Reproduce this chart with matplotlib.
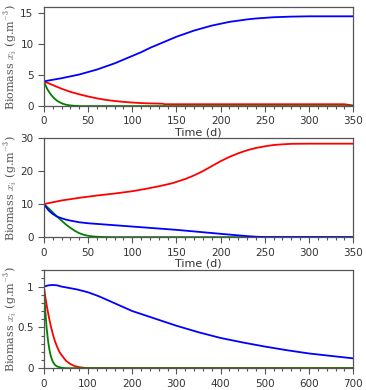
import numpy as np
import matplotlib
matplotlib.use("Agg")
import matplotlib.pyplot as plt
from matplotlib.ticker import MultipleLocator

plt.rcParams['mathtext.fontset'] = 'cm'

# panel 1
t1_blue = [0, 10, 20, 30, 40, 50, 60, 70, 80, 90, 100, 110, 120, 130, 140, 150, 160, 170, 180,
           190, 200, 210, 220, 230, 240, 250, 260, 270, 280, 300, 320, 350]
x1_blue = [4.0, 4.25, 4.5, 4.8, 5.1, 5.5, 5.9, 6.4, 6.9, 7.5, 8.1, 8.7, 9.4, 10.0, 10.6, 11.2,
           11.7, 12.2, 12.6, 13.0, 13.3, 13.6, 13.8, 14.0, 14.15, 14.25, 14.35, 14.4, 14.45, 14.5, 14.5, 14.5]
t1_red = [0, 10, 20, 30, 40, 50, 60, 70, 80, 90, 100, 115, 135, 136, 340, 350]
x1_red = [4.0, 3.4, 2.8, 2.3, 1.9, 1.55, 1.25, 1.0, 0.82, 0.68, 0.57, 0.45, 0.38, 0.3, 0.3, 0.1]
t1_green = [0, 2, 4, 6, 8, 10, 12, 15, 18, 21, 25, 30, 35, 40, 350]
x1_green = [4.0, 3.3, 2.7, 2.25, 1.85, 1.5, 1.2, 0.85, 0.6, 0.4, 0.22, 0.1, 0.04, 0.0, 0.0]

# panel 2
t2_red = [0, 20, 40, 60, 80, 100, 115, 130, 145, 160, 170, 180, 190, 200, 210, 220, 230,
          240, 250, 260, 270, 280, 300, 350]
x2_red = [10.0, 11.1, 11.9, 12.6, 13.2, 13.9, 14.6, 15.4, 16.3, 17.6, 18.7, 20.0, 21.5, 23.0,
          24.3, 25.4, 26.3, 27.0, 27.5, 27.9, 28.1, 28.25, 28.3, 28.3]
t2_blue = [0, 3, 6, 10, 15, 20, 25, 30, 40, 50, 75, 100, 125, 150, 175, 200, 215, 230, 240, 250, 350]
x2_blue = [10.0, 8.9, 7.9, 7.0, 6.2, 5.7, 5.3, 5.0, 4.5, 4.2, 3.7, 3.2, 2.7, 2.2, 1.6, 1.0,
           0.65, 0.3, 0.12, 0.03, 0.0]
t2_green = [0, 5, 10, 15, 20, 25, 30, 35, 40, 45, 50, 55, 60, 65, 75, 350]
x2_green = [10.0, 8.8, 7.5, 6.2, 5.0, 3.8, 2.8, 1.9, 1.2, 0.7, 0.4, 0.22, 0.12, 0.05, 0.0, 0.0]

# panel 3
t3_blue = [0, 10, 20, 30, 40, 50, 75, 100, 125, 150, 175, 200, 225, 250, 275, 300, 325, 350,
           375, 400, 450, 500, 550, 600, 650, 700]
x3_blue = [1.0, 1.015, 1.02, 1.015, 1.0, 0.99, 0.965, 0.93, 0.88, 0.82, 0.76, 0.70, 0.655,
           0.61, 0.565, 0.52, 0.48, 0.44, 0.405, 0.37, 0.315, 0.265, 0.22, 0.18, 0.15, 0.12]
t3_red = [0, 3, 6, 10, 15, 20, 25, 30, 35, 40, 50, 60, 70, 80, 90, 100, 125, 700]
x3_red = [1.0, 0.88, 0.78, 0.66, 0.53, 0.42, 0.33, 0.26, 0.2, 0.16, 0.09, 0.05, 0.025, 0.012,
          0.005, 0.0, 0.0, 0.0]
t3_green = [0, 2, 4, 6, 8, 10, 13, 16, 20, 25, 30, 40, 50, 700]
x3_green = [1.0, 0.8, 0.64, 0.5, 0.4, 0.31, 0.21, 0.14, 0.08, 0.04, 0.02, 0.005, 0.0, 0.0]

ylab = r'Biomass $x_i$ (g.m$^{-3}$)'
gray = '#555555'

fig = plt.figure(figsize=(3.66, 3.90), dpi=100)
ax1 = fig.add_axes([0.120, 0.728, 0.845, 0.254])
ax2 = fig.add_axes([0.120, 0.392, 0.845, 0.254])
ax3 = fig.add_axes([0.120, 0.056, 0.845, 0.251])

ax1.plot(t1_red, x1_red, color='red', lw=1.3)
ax1.plot(t1_green, x1_green, color='green', lw=1.3)
ax1.plot(t1_blue, x1_blue, color='blue', lw=1.3)
ax1.set_xlim(0, 350)
ax1.set_ylim(0, 16)
ax1.set_yticks([0, 5, 10, 15])
ax1.xaxis.set_major_locator(MultipleLocator(50))
ax1.xaxis.set_minor_locator(MultipleLocator(10))

ax2.plot(t2_green, x2_green, color='green', lw=1.3)
ax2.plot(t2_blue, x2_blue, color='blue', lw=1.3)
ax2.plot(t2_red, x2_red, color='red', lw=1.3)
ax2.set_xlim(0, 350)
ax2.set_ylim(0, 30)
ax2.set_yticks([0, 10, 20, 30])
ax2.xaxis.set_major_locator(MultipleLocator(50))
ax2.xaxis.set_minor_locator(MultipleLocator(10))

ax3.plot(t3_blue, x3_blue, color='blue', lw=1.3)
ax3.plot(t3_red, x3_red, color='red', lw=1.3)
ax3.plot(t3_green, x3_green, color='green', lw=1.3)
ax3.set_xlim(0, 700)
ax3.set_ylim(0, 1.2)
ax3.set_yticks([0, 0.5, 1])
ax3.set_yticklabels(['0', '0.5', '1'])
ax3.xaxis.set_major_locator(MultipleLocator(100))
ax3.xaxis.set_minor_locator(MultipleLocator(20))
ax3.yaxis.set_minor_locator(MultipleLocator(0.1))

for ax in (ax1, ax2, ax3):
    for s in ax.spines.values():
        s.set_color(gray)
        s.set_linewidth(0.9)
    ax.tick_params(which='both', direction='out', colors=gray, labelcolor='#333333',
                   labelsize=7.5, width=0.8)
    ax.tick_params(which='major', length=4)
    ax.tick_params(which='minor', length=2.5)
    ax.set_ylabel(ylab, family='serif', fontsize=8, color='#555555')
    ax.yaxis.set_label_coords(-0.082, 0.5)

ax1.set_xlabel('Time (d)', fontsize=8, color='#333333', labelpad=1)
ax2.set_xlabel('Time (d)', fontsize=8, color='#333333', labelpad=1)

fig.savefig('out.png', dpi=100)
